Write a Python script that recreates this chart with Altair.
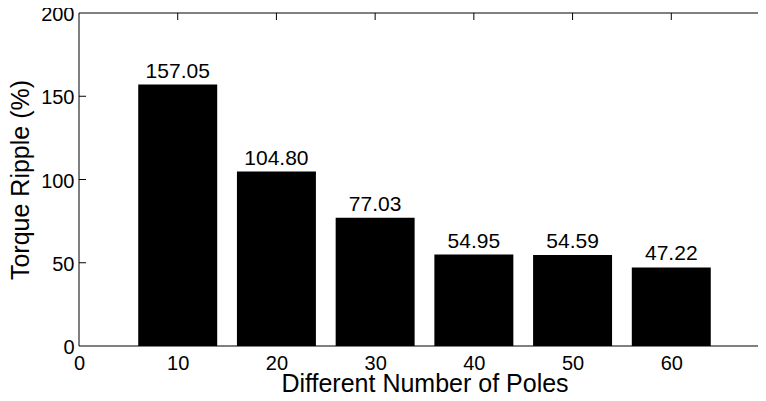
import altair as alt
import pandas as pd

poles = [10, 20, 30, 40, 50, 60]
ripple = [157.05, 104.80, 77.03, 54.95, 54.59, 47.22]
value_labels = ["157.05", "104.80", "77.03", "54.95", "54.59", "47.22"]
x_tick_values = [0, 10, 20, 30, 40, 50, 60]
x_inner_ticks = [10, 20, 30, 40, 50, 60]
y_tick_values = [0, 50, 100, 150, 200]
y_inner_ticks = [50, 100, 150]

W = 679       # visible plot width (the page cuts the axes box at the right)
WR = 691      # full axis length, runs past the window edge
H = 333
FONT = "Liberation Sans"

df = pd.DataFrame({"poles": poles, "ripple": ripple, "label": value_labels})
xt = pd.DataFrame({"t": x_inner_ticks})
yt = pd.DataFrame({"t": y_inner_ticks})

xscale = alt.Scale(domain=[0, 70], range=[0, WR], nice=False, zero=False)
yscale = alt.Scale(domain=[0, 200], nice=False)

xaxis = alt.Axis(values=x_tick_values, title="Different Number of Poles",
                 grid=False, domain=False, ticks=False, labelPadding=7,
                 labelFontSize=20, labelFont=FONT, labelColor="black",
                 titleFontSize=25, titleFont=FONT, titleFontWeight="normal",
                 titleColor="black", titleBaseline="alphabetic",
                 titleY=45, titleX=WR / 2, titleAlign="center",
                 labelFlush=False, labelOverlap=False)
yaxis = alt.Axis(values=y_tick_values, title="Torque Ripple (%)",
                 grid=False, domain=False, ticks=False, labelPadding=5,
                 labelOffset=1.5,
                 labelFontSize=20, labelFont=FONT, labelColor="black",
                 titleFontSize=25, titleFont=FONT, titleFontWeight="normal",
                 titleColor="black", titleBaseline="alphabetic",
                 titleAngle=270, titleX=-51, titleY=H / 2, titleAlign="center",
                 labelFlush=False, labelOverlap=False)

bars = alt.Chart(df).transform_calculate(
    x0="datum.poles - 4", x1="datum.poles + 4"
).mark_bar(color="black", clip=True).encode(
    x=alt.X("x0:Q", scale=xscale, axis=xaxis),
    x2="x1:Q",
    y=alt.Y("ripple:Q", scale=yscale, axis=yaxis),
    y2=alt.datum(0),
)

rule = dict(color="black", strokeWidth=1, clip=True)

bottom_ticks = alt.Chart(xt).mark_rule(**rule).encode(
    x=alt.X("t:Q", scale=xscale, axis=xaxis),
    y=alt.value(H), y2=alt.value(H - 7),
)
top_ticks = alt.Chart(xt).mark_rule(**rule).encode(
    x=alt.X("t:Q", scale=xscale, axis=xaxis),
    y=alt.value(0), y2=alt.value(7),
)
left_ticks = alt.Chart(yt).mark_rule(**rule).encode(
    y=alt.Y("t:Q", scale=yscale, axis=yaxis),
    x=alt.value(0), x2=alt.value(7),
)
right_ticks = alt.Chart(yt).mark_rule(**rule).encode(
    y=alt.Y("t:Q", scale=yscale, axis=yaxis),
    x=alt.value(WR - 7), x2=alt.value(WR),
)

frame_df = pd.DataFrame({"k": [0]})
frame_top = alt.Chart(frame_df).mark_rule(color="black", strokeWidth=1).encode(
    x=alt.value(0), x2=alt.value(W), y=alt.value(0))
frame_bottom = alt.Chart(frame_df).mark_rule(color="black", strokeWidth=1).encode(
    x=alt.value(0), x2=alt.value(W), y=alt.value(H))
frame_left = alt.Chart(frame_df).mark_rule(color="black", strokeWidth=1).encode(
    y=alt.value(0), y2=alt.value(H), x=alt.value(0))

text = alt.Chart(df).mark_text(
    font=FONT, fontSize=21, color="black", baseline="alphabetic", align="center", dy=-7
).encode(
    x=alt.X("poles:Q", scale=xscale, axis=xaxis),
    y=alt.Y("ripple:Q", scale=yscale, axis=yaxis),
    text="label:N",
)

chart = alt.layer(
    bottom_ticks, bars, top_ticks, left_ticks, right_ticks,
    frame_top, frame_bottom, frame_left, text
).properties(
    width=W, height=H,
    autosize=alt.AutoSizeParams(type="none"),
    padding={"left": 71, "top": 5, "right": 0, "bottom": 47},
    background="white",
).configure_view(stroke=None)

chart.save("out.html", embed_options={"renderer": "svg", "actions": False})
